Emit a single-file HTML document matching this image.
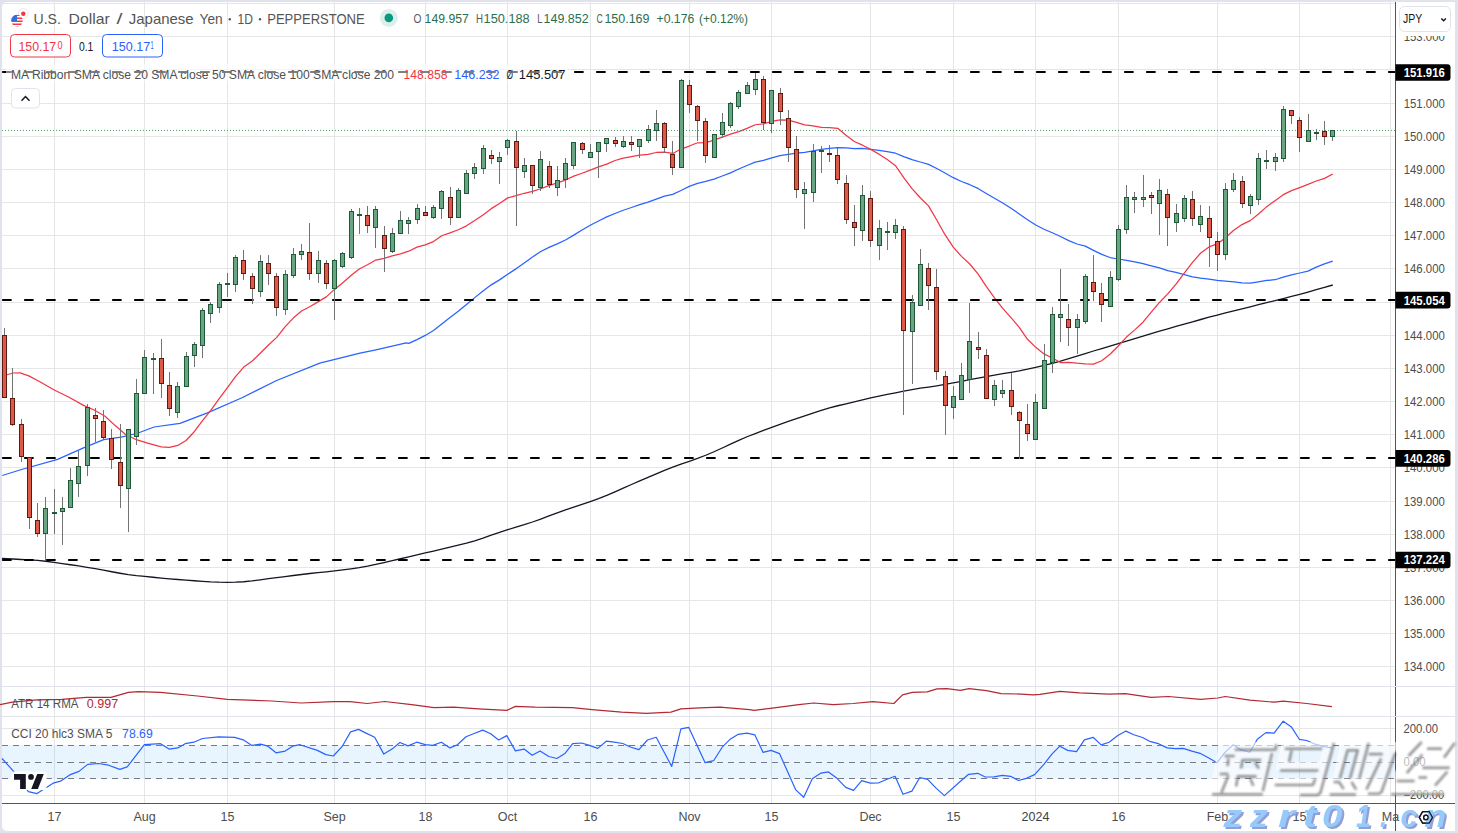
<!DOCTYPE html>
<html><head><meta charset="utf-8"><style>
html,body{margin:0;padding:0;width:1458px;height:833px;overflow:hidden;background:#fff}
svg{display:block}
text{font-family:"Liberation Sans", sans-serif}
</style></head><body>
<svg width="1458" height="833" viewBox="0 0 1458 833" shape-rendering="auto">
<rect x="0.00" y="0.00" width="1458.00" height="833.00" fill="#e0e3eb" />
<rect x="2" y="2" width="1453" height="829" rx="5" fill="#ffffff"/>
<rect x="54.00" y="2.00" width="1.00" height="801.00" fill="#e6e6e6" />
<rect x="144.00" y="2.00" width="1.00" height="801.00" fill="#e6e6e6" />
<rect x="227.00" y="2.00" width="1.00" height="801.00" fill="#e6e6e6" />
<rect x="334.00" y="2.00" width="1.00" height="801.00" fill="#e6e6e6" />
<rect x="425.00" y="2.00" width="1.00" height="801.00" fill="#e6e6e6" />
<rect x="507.00" y="2.00" width="1.00" height="801.00" fill="#e6e6e6" />
<rect x="590.00" y="2.00" width="1.00" height="801.00" fill="#e6e6e6" />
<rect x="689.00" y="2.00" width="1.00" height="801.00" fill="#e6e6e6" />
<rect x="771.00" y="2.00" width="1.00" height="801.00" fill="#e6e6e6" />
<rect x="870.00" y="2.00" width="1.00" height="801.00" fill="#e6e6e6" />
<rect x="953.00" y="2.00" width="1.00" height="801.00" fill="#e6e6e6" />
<rect x="1035.00" y="2.00" width="1.00" height="801.00" fill="#e6e6e6" />
<rect x="1118.00" y="2.00" width="1.00" height="801.00" fill="#e6e6e6" />
<rect x="1217.00" y="2.00" width="1.00" height="801.00" fill="#e6e6e6" />
<rect x="1299.00" y="2.00" width="1.00" height="801.00" fill="#e6e6e6" />
<rect x="1390.00" y="2.00" width="1.00" height="801.00" fill="#e6e6e6" />
<rect x="2.00" y="666.00" width="1393.00" height="1.00" fill="#e6e6e6" />
<rect x="2.00" y="633.00" width="1393.00" height="1.00" fill="#e6e6e6" />
<rect x="2.00" y="600.00" width="1393.00" height="1.00" fill="#e6e6e6" />
<rect x="2.00" y="567.00" width="1393.00" height="1.00" fill="#e6e6e6" />
<rect x="2.00" y="534.00" width="1393.00" height="1.00" fill="#e6e6e6" />
<rect x="2.00" y="501.00" width="1393.00" height="1.00" fill="#e6e6e6" />
<rect x="2.00" y="467.00" width="1393.00" height="1.00" fill="#e6e6e6" />
<rect x="2.00" y="434.00" width="1393.00" height="1.00" fill="#e6e6e6" />
<rect x="2.00" y="401.00" width="1393.00" height="1.00" fill="#e6e6e6" />
<rect x="2.00" y="368.00" width="1393.00" height="1.00" fill="#e6e6e6" />
<rect x="2.00" y="335.00" width="1393.00" height="1.00" fill="#e6e6e6" />
<rect x="2.00" y="302.00" width="1393.00" height="1.00" fill="#e6e6e6" />
<rect x="2.00" y="268.00" width="1393.00" height="1.00" fill="#e6e6e6" />
<rect x="2.00" y="235.00" width="1393.00" height="1.00" fill="#e6e6e6" />
<rect x="2.00" y="202.00" width="1393.00" height="1.00" fill="#e6e6e6" />
<rect x="2.00" y="169.00" width="1393.00" height="1.00" fill="#e6e6e6" />
<rect x="2.00" y="136.00" width="1393.00" height="1.00" fill="#e6e6e6" />
<rect x="2.00" y="103.00" width="1393.00" height="1.00" fill="#e6e6e6" />
<rect x="2.00" y="69.00" width="1393.00" height="1.00" fill="#e6e6e6" />
<rect x="2.00" y="36.00" width="1393.00" height="1.00" fill="#e6e6e6" />
<rect x="2.00" y="3.00" width="1393.00" height="1.00" fill="#e6e6e6" />
<rect x="2.00" y="728.00" width="1393.00" height="1.00" fill="#e6e6e6" />
<rect x="2.00" y="795.00" width="1393.00" height="1.00" fill="#e6e6e6" />
<rect x="2.00" y="745.00" width="1393.00" height="34.00" fill="rgba(33,150,243,0.1)" />
<line x1="2" y1="745.5" x2="1395" y2="745.5" stroke="#787b86" stroke-width="1" stroke-dasharray="6 5"/>
<line x1="2" y1="762.5" x2="1395" y2="762.5" stroke="#787b86" stroke-width="1" stroke-dasharray="6 5"/>
<line x1="2" y1="778.5" x2="1395" y2="778.5" stroke="#787b86" stroke-width="1" stroke-dasharray="6 5"/>
<polyline points="2.00,558.50 12.75,559.02 21.00,559.51 29.25,559.95 37.50,560.47 45.75,561.26 54.00,562.30 62.25,563.52 70.50,564.74 78.75,565.97 87.00,567.30 95.25,568.72 103.50,570.23 111.75,571.74 120.00,573.24 128.25,574.56 136.50,575.63 144.75,576.47 153.00,577.27 161.25,578.07 169.50,578.83 177.75,579.52 186.00,580.14 194.25,580.74 202.50,581.33 210.75,581.85 219.00,582.17 227.25,582.30 235.50,582.22 243.75,581.77 252.00,580.94 260.25,579.81 268.50,578.69 276.75,577.59 285.00,576.52 293.25,575.50 301.50,574.50 309.75,573.52 318.00,572.62 326.25,571.79 334.50,570.96 342.75,569.97 351.00,568.81 359.25,567.52 367.50,566.03 375.75,564.35 384.00,562.51 392.25,560.64 400.50,558.75 408.75,556.82 417.00,554.90 425.25,552.98 433.50,551.04 441.75,549.10 450.00,547.14 458.25,545.18 466.50,543.15 474.75,540.79 483.00,538.11 491.25,535.18 499.50,532.37 507.75,529.72 516.00,527.24 524.25,524.73 532.50,522.00 540.75,519.05 549.00,515.93 557.25,512.87 565.50,509.92 573.75,507.10 582.00,504.34 590.25,501.53 598.50,498.64 606.75,495.40 615.00,491.87 623.25,488.13 631.50,484.48 639.75,480.91 648.00,477.38 656.25,473.89 664.50,470.44 672.75,467.16 681.00,464.13 689.25,461.32 697.50,458.42 705.75,455.24 714.00,451.74 722.25,448.01 730.50,444.13 738.75,440.29 747.00,436.76 755.25,433.54 763.50,430.48 771.75,427.43 780.00,424.39 788.25,421.47 796.50,418.66 804.75,415.93 813.00,413.19 821.25,410.46 829.50,407.98 837.75,405.75 846.00,403.76 854.25,401.78 862.50,399.80 870.75,397.90 879.00,396.12 887.25,394.44 895.50,392.80 903.75,391.16 912.00,389.60 920.25,388.23 928.50,387.02 936.75,385.84 945.00,384.48 953.25,382.94 961.50,381.29 969.75,379.64 978.00,378.04 986.25,376.53 994.50,375.10 1002.75,373.71 1011.00,372.31 1019.25,370.84 1027.50,369.16 1035.75,367.28 1044.00,365.28 1052.25,363.27 1060.50,361.06 1068.75,358.65 1077.00,356.06 1085.25,353.51 1093.50,351.00 1101.75,348.52 1110.00,346.04 1118.25,343.55 1126.50,341.08 1134.75,338.61 1143.00,336.14 1151.25,333.68 1159.50,331.22 1167.75,328.79 1176.00,326.42 1184.25,324.11 1192.50,321.80 1200.75,319.50 1209.00,317.23 1217.25,315.05 1225.50,312.95 1233.75,310.89 1242.00,308.82 1250.25,306.76 1258.50,304.70 1266.75,302.64 1275.00,300.57 1283.25,298.51 1291.50,296.44 1299.75,294.28 1308.00,292.02 1316.25,289.66 1324.50,287.33 1332.75,285.00" fill="none" stroke="#131722" stroke-width="1.3" stroke-linejoin="round" />
<polyline points="2.20,475.50 21.60,469.50 57.60,459.40 83.50,447.90 103.70,439.60 121.00,437.10 136.80,433.50 154.10,427.00 180.00,423.40 207.40,412.90 242.00,397.70 276.60,380.50 319.80,363.20 360.00,353.20 375.90,349.80 406.20,342.90 408.75,343.40 417.00,339.60 425.25,335.43 433.50,330.43 441.75,323.89 450.00,317.56 458.25,311.20 466.50,304.43 474.75,297.63 483.00,291.00 491.25,284.87 499.50,279.87 507.75,274.28 516.00,268.86 524.25,262.96 532.50,256.96 540.75,251.56 549.00,247.41 557.25,243.86 565.50,239.96 573.75,235.12 582.00,229.94 590.25,225.27 598.50,220.98 606.75,216.87 615.00,213.54 623.25,210.28 631.50,207.51 639.75,204.62 648.00,202.07 656.25,199.04 664.50,196.21 672.75,194.34 681.00,190.47 689.25,186.41 697.50,183.35 705.75,181.39 714.00,179.04 722.25,176.02 730.50,172.89 738.75,169.03 747.00,165.53 755.25,162.06 763.50,160.31 771.75,157.84 780.00,155.55 788.25,154.33 796.50,153.14 804.75,152.26 813.00,150.88 821.25,149.49 829.50,148.43 837.75,147.71 846.00,147.97 854.25,148.71 862.50,148.26 870.75,149.28 879.00,150.38 887.25,151.66 895.50,153.21 903.75,156.65 912.00,159.55 920.25,162.02 928.50,164.39 936.75,168.54 945.00,172.93 953.25,177.67 961.50,181.47 969.75,184.70 978.00,188.44 986.25,193.57 994.50,198.26 1002.75,203.01 1011.00,208.32 1019.25,213.97 1027.50,219.78 1035.75,225.00 1044.00,229.28 1052.25,232.79 1060.50,236.49 1068.75,240.58 1077.00,244.00 1085.25,246.17 1093.50,250.41 1101.75,254.42 1110.00,257.54 1118.25,259.00 1126.50,260.27 1134.75,261.77 1143.00,263.65 1151.25,265.79 1159.50,267.90 1167.75,270.67 1176.00,272.47 1184.25,274.63 1192.50,276.79 1200.75,278.14 1209.00,279.10 1217.25,280.42 1225.50,281.18 1233.75,281.78 1242.00,282.77 1250.25,283.09 1258.50,281.84 1266.75,280.48 1275.00,279.73 1283.25,277.10 1291.50,274.86 1299.75,273.00 1308.00,271.11 1316.25,267.12 1324.50,263.81 1332.75,261.15" fill="none" stroke="#2962ff" stroke-width="1.25" stroke-linejoin="round" />
<polyline points="4.50,375.50 13.00,373.00 20.20,372.80 28.80,375.90 40.30,382.00 54.70,390.30 69.10,397.20 83.50,405.40 93.60,409.80 105.10,416.20 115.20,425.60 125.30,434.20 135.40,439.30 146.90,442.90 158.40,446.20 161.25,446.86 169.50,447.43 177.75,445.48 186.00,440.45 194.25,431.74 202.50,420.54 210.75,410.35 219.00,398.97 227.25,387.76 235.50,376.63 243.75,367.06 252.00,361.18 260.25,353.27 268.50,345.03 276.75,337.40 285.00,326.81 293.25,318.06 301.50,310.96 309.75,306.78 318.00,301.87 326.25,296.88 334.50,289.41 342.75,282.76 351.00,275.48 359.25,268.97 367.50,264.77 375.75,260.03 384.00,258.29 392.25,255.79 400.50,253.94 408.75,251.21 417.00,247.14 425.25,244.90 433.50,241.59 441.75,235.76 450.00,232.93 458.25,229.71 466.50,225.81 474.75,220.50 483.00,214.90 491.25,208.65 499.50,203.51 507.75,197.86 516.00,195.69 524.25,193.27 532.50,191.28 540.75,188.77 549.00,185.58 557.25,182.89 565.50,180.04 573.75,176.15 582.00,173.28 590.25,170.08 598.50,166.82 606.75,164.19 615.00,160.48 623.25,158.04 631.50,156.66 639.75,155.24 648.00,154.30 656.25,152.49 664.50,152.04 672.75,153.43 681.00,149.06 689.25,146.04 697.50,142.78 705.75,142.63 714.00,140.05 722.25,137.19 730.50,134.20 738.75,131.66 747.00,128.40 755.25,124.75 763.50,123.79 771.75,121.38 780.00,119.79 788.25,120.13 796.50,122.35 804.75,124.88 813.00,125.98 821.25,127.34 829.50,127.69 837.75,128.32 846.00,135.33 854.25,141.51 862.50,145.19 870.75,149.43 879.00,154.16 887.25,159.60 895.50,165.70 903.75,177.69 912.00,188.55 920.25,197.75 928.50,205.91 936.75,220.00 945.00,234.72 953.25,247.13 961.50,256.40 969.75,264.01 978.00,273.95 986.25,286.37 994.50,297.87 1002.75,308.33 1011.00,317.69 1019.25,327.34 1027.50,339.28 1035.75,347.35 1044.00,353.92 1052.25,358.06 1060.50,362.51 1068.75,362.32 1077.00,363.16 1085.25,363.78 1093.50,364.10 1101.75,360.75 1110.00,354.31 1118.25,345.96 1126.50,337.06 1134.75,329.86 1143.00,322.22 1151.25,312.21 1159.50,302.47 1167.75,293.90 1176.00,284.18 1184.25,273.03 1192.50,262.31 1200.75,252.99 1209.00,246.90 1217.25,243.95 1225.50,237.70 1233.75,230.34 1242.00,224.61 1250.25,220.63 1258.50,213.92 1266.75,206.65 1275.00,200.66 1283.25,194.67 1291.50,190.62 1299.75,187.68 1308.00,184.33 1316.25,181.02 1324.50,178.33 1332.75,173.94" fill="none" stroke="#f23645" stroke-width="1.25" stroke-linejoin="round" />
<line x1="2" y1="130.5" x2="1395" y2="130.5" stroke="#5b9e74" stroke-width="1" stroke-dasharray="1 2"/>
<line x1="2.9" y1="72.00" x2="1395" y2="72.00" stroke="#000000" stroke-width="2" stroke-dasharray="8 14" stroke-linecap="round"/>
<line x1="2.9" y1="300.00" x2="1395" y2="300.00" stroke="#000000" stroke-width="2" stroke-dasharray="8 14" stroke-linecap="round"/>
<line x1="2.9" y1="458.00" x2="1395" y2="458.00" stroke="#000000" stroke-width="2" stroke-dasharray="8 14" stroke-linecap="round"/>
<line x1="2.9" y1="560.00" x2="1395" y2="560.00" stroke="#000000" stroke-width="2" stroke-dasharray="8 14" stroke-linecap="round"/>
<rect x="4.00" y="328.00" width="1.00" height="70.00" fill="#737373" />
<rect x="12.00" y="368.00" width="1.00" height="58.00" fill="#737373" />
<rect x="21.00" y="419.00" width="1.00" height="43.00" fill="#737373" />
<rect x="29.00" y="457.00" width="1.00" height="72.00" fill="#737373" />
<rect x="37.00" y="503.00" width="1.00" height="34.00" fill="#737373" />
<rect x="45.00" y="497.00" width="1.00" height="64.00" fill="#737373" />
<rect x="54.00" y="489.00" width="1.00" height="45.00" fill="#737373" />
<rect x="62.00" y="497.00" width="1.00" height="48.00" fill="#737373" />
<rect x="70.00" y="468.00" width="1.00" height="40.00" fill="#737373" />
<rect x="78.00" y="451.00" width="1.00" height="46.00" fill="#737373" />
<rect x="87.00" y="404.00" width="1.00" height="72.00" fill="#737373" />
<rect x="95.00" y="408.00" width="1.00" height="34.00" fill="#737373" />
<rect x="103.00" y="410.00" width="1.00" height="29.00" fill="#737373" />
<rect x="111.00" y="429.00" width="1.00" height="40.00" fill="#737373" />
<rect x="120.00" y="424.00" width="1.00" height="84.00" fill="#737373" />
<rect x="128.00" y="429.00" width="1.00" height="103.00" fill="#737373" />
<rect x="136.00" y="379.00" width="1.00" height="66.00" fill="#737373" />
<rect x="144.00" y="350.00" width="1.00" height="44.00" fill="#737373" />
<rect x="153.00" y="353.00" width="1.00" height="41.00" fill="#737373" />
<rect x="161.00" y="339.00" width="1.00" height="59.00" fill="#737373" />
<rect x="169.00" y="372.00" width="1.00" height="44.00" fill="#737373" />
<rect x="177.00" y="382.00" width="1.00" height="36.00" fill="#737373" />
<rect x="186.00" y="352.00" width="1.00" height="35.00" fill="#737373" />
<rect x="194.00" y="342.00" width="1.00" height="25.00" fill="#737373" />
<rect x="202.00" y="308.00" width="1.00" height="50.00" fill="#737373" />
<rect x="210.00" y="302.00" width="1.00" height="21.00" fill="#737373" />
<rect x="219.00" y="282.00" width="1.00" height="31.00" fill="#737373" />
<rect x="227.00" y="273.00" width="1.00" height="24.00" fill="#737373" />
<rect x="235.00" y="255.00" width="1.00" height="37.00" fill="#737373" />
<rect x="243.00" y="250.00" width="1.00" height="30.00" fill="#737373" />
<rect x="252.00" y="273.00" width="1.00" height="31.00" fill="#737373" />
<rect x="260.00" y="255.00" width="1.00" height="42.00" fill="#737373" />
<rect x="268.00" y="255.00" width="1.00" height="30.00" fill="#737373" />
<rect x="276.00" y="273.00" width="1.00" height="43.00" fill="#737373" />
<rect x="285.00" y="270.00" width="1.00" height="45.00" fill="#737373" />
<rect x="293.00" y="248.00" width="1.00" height="30.00" fill="#737373" />
<rect x="301.00" y="244.00" width="1.00" height="16.00" fill="#737373" />
<rect x="309.00" y="223.00" width="1.00" height="57.00" fill="#737373" />
<rect x="318.00" y="251.00" width="1.00" height="32.00" fill="#737373" />
<rect x="326.00" y="260.00" width="1.00" height="29.00" fill="#737373" />
<rect x="334.00" y="259.00" width="1.00" height="61.00" fill="#737373" />
<rect x="342.00" y="252.00" width="1.00" height="16.00" fill="#737373" />
<rect x="351.00" y="209.00" width="1.00" height="50.00" fill="#737373" />
<rect x="359.00" y="208.00" width="1.00" height="26.00" fill="#737373" />
<rect x="367.00" y="206.00" width="1.00" height="27.00" fill="#737373" />
<rect x="375.00" y="206.00" width="1.00" height="42.00" fill="#737373" />
<rect x="384.00" y="226.00" width="1.00" height="46.00" fill="#737373" />
<rect x="392.00" y="228.00" width="1.00" height="25.00" fill="#737373" />
<rect x="400.00" y="211.00" width="1.00" height="23.00" fill="#737373" />
<rect x="408.00" y="217.00" width="1.00" height="17.00" fill="#737373" />
<rect x="417.00" y="204.00" width="1.00" height="20.00" fill="#737373" />
<rect x="425.00" y="206.00" width="1.00" height="10.00" fill="#737373" />
<rect x="433.00" y="205.00" width="1.00" height="14.00" fill="#737373" />
<rect x="441.00" y="190.00" width="1.00" height="29.00" fill="#737373" />
<rect x="450.00" y="187.00" width="1.00" height="38.00" fill="#737373" />
<rect x="458.00" y="188.00" width="1.00" height="30.00" fill="#737373" />
<rect x="466.00" y="170.00" width="1.00" height="24.00" fill="#737373" />
<rect x="474.00" y="163.00" width="1.00" height="16.00" fill="#737373" />
<rect x="483.00" y="145.00" width="1.00" height="29.00" fill="#737373" />
<rect x="491.00" y="150.00" width="1.00" height="14.00" fill="#737373" />
<rect x="499.00" y="152.00" width="1.00" height="32.00" fill="#737373" />
<rect x="507.00" y="139.00" width="1.00" height="16.00" fill="#737373" />
<rect x="516.00" y="131.00" width="1.00" height="95.00" fill="#737373" />
<rect x="524.00" y="158.00" width="1.00" height="20.00" fill="#737373" />
<rect x="532.00" y="165.00" width="1.00" height="29.00" fill="#737373" />
<rect x="540.00" y="151.00" width="1.00" height="40.00" fill="#737373" />
<rect x="549.00" y="161.00" width="1.00" height="27.00" fill="#737373" />
<rect x="557.00" y="166.00" width="1.00" height="30.00" fill="#737373" />
<rect x="565.00" y="158.00" width="1.00" height="30.00" fill="#737373" />
<rect x="573.00" y="142.00" width="1.00" height="27.00" fill="#737373" />
<rect x="582.00" y="142.00" width="1.00" height="12.00" fill="#737373" />
<rect x="590.00" y="144.00" width="1.00" height="14.00" fill="#737373" />
<rect x="598.00" y="142.00" width="1.00" height="36.00" fill="#737373" />
<rect x="606.00" y="138.00" width="1.00" height="14.00" fill="#737373" />
<rect x="615.00" y="137.00" width="1.00" height="10.00" fill="#737373" />
<rect x="623.00" y="136.00" width="1.00" height="12.00" fill="#737373" />
<rect x="631.00" y="136.00" width="1.00" height="15.00" fill="#737373" />
<rect x="639.00" y="139.00" width="1.00" height="19.00" fill="#737373" />
<rect x="648.00" y="125.00" width="1.00" height="18.00" fill="#737373" />
<rect x="656.00" y="110.00" width="1.00" height="31.00" fill="#737373" />
<rect x="664.00" y="122.00" width="1.00" height="31.00" fill="#737373" />
<rect x="672.00" y="141.00" width="1.00" height="34.00" fill="#737373" />
<rect x="681.00" y="79.00" width="1.00" height="89.00" fill="#737373" />
<rect x="689.00" y="80.00" width="1.00" height="33.00" fill="#737373" />
<rect x="697.00" y="105.00" width="1.00" height="36.00" fill="#737373" />
<rect x="705.00" y="118.00" width="1.00" height="45.00" fill="#737373" />
<rect x="714.00" y="134.00" width="1.00" height="24.00" fill="#737373" />
<rect x="722.00" y="113.00" width="1.00" height="25.00" fill="#737373" />
<rect x="730.00" y="102.00" width="1.00" height="26.00" fill="#737373" />
<rect x="738.00" y="90.00" width="1.00" height="19.00" fill="#737373" />
<rect x="747.00" y="82.00" width="1.00" height="12.00" fill="#737373" />
<rect x="755.00" y="73.00" width="1.00" height="22.00" fill="#737373" />
<rect x="763.00" y="76.00" width="1.00" height="54.00" fill="#737373" />
<rect x="771.00" y="90.00" width="1.00" height="43.00" fill="#737373" />
<rect x="780.00" y="88.00" width="1.00" height="37.00" fill="#737373" />
<rect x="788.00" y="110.00" width="1.00" height="52.00" fill="#737373" />
<rect x="796.00" y="136.00" width="1.00" height="62.00" fill="#737373" />
<rect x="804.00" y="182.00" width="1.00" height="47.00" fill="#737373" />
<rect x="813.00" y="144.00" width="1.00" height="58.00" fill="#737373" />
<rect x="821.00" y="146.00" width="1.00" height="27.00" fill="#737373" />
<rect x="829.00" y="145.00" width="1.00" height="17.00" fill="#737373" />
<rect x="837.00" y="148.00" width="1.00" height="36.00" fill="#737373" />
<rect x="846.00" y="175.00" width="1.00" height="49.00" fill="#737373" />
<rect x="854.00" y="205.00" width="1.00" height="41.00" fill="#737373" />
<rect x="862.00" y="185.00" width="1.00" height="56.00" fill="#737373" />
<rect x="870.00" y="191.00" width="1.00" height="56.00" fill="#737373" />
<rect x="879.00" y="220.00" width="1.00" height="40.00" fill="#737373" />
<rect x="887.00" y="222.00" width="1.00" height="28.00" fill="#737373" />
<rect x="895.00" y="219.00" width="1.00" height="20.00" fill="#737373" />
<rect x="903.00" y="226.00" width="1.00" height="189.00" fill="#737373" />
<rect x="912.00" y="295.00" width="1.00" height="89.00" fill="#737373" />
<rect x="920.00" y="249.00" width="1.00" height="57.00" fill="#737373" />
<rect x="928.00" y="263.00" width="1.00" height="47.00" fill="#737373" />
<rect x="936.00" y="269.00" width="1.00" height="111.00" fill="#737373" />
<rect x="945.00" y="371.00" width="1.00" height="64.00" fill="#737373" />
<rect x="953.00" y="386.00" width="1.00" height="33.00" fill="#737373" />
<rect x="961.00" y="363.00" width="1.00" height="37.00" fill="#737373" />
<rect x="969.00" y="303.00" width="1.00" height="90.00" fill="#737373" />
<rect x="978.00" y="332.00" width="1.00" height="27.00" fill="#737373" />
<rect x="986.00" y="349.00" width="1.00" height="50.00" fill="#737373" />
<rect x="994.00" y="380.00" width="1.00" height="26.00" fill="#737373" />
<rect x="1002.00" y="380.00" width="1.00" height="18.00" fill="#737373" />
<rect x="1011.00" y="373.00" width="1.00" height="42.00" fill="#737373" />
<rect x="1019.00" y="411.00" width="1.00" height="48.00" fill="#737373" />
<rect x="1027.00" y="404.00" width="1.00" height="37.00" fill="#737373" />
<rect x="1035.00" y="394.00" width="1.00" height="46.00" fill="#737373" />
<rect x="1044.00" y="344.00" width="1.00" height="65.00" fill="#737373" />
<rect x="1052.00" y="307.00" width="1.00" height="66.00" fill="#737373" />
<rect x="1060.00" y="269.00" width="1.00" height="73.00" fill="#737373" />
<rect x="1068.00" y="304.00" width="1.00" height="42.00" fill="#737373" />
<rect x="1077.00" y="314.00" width="1.00" height="40.00" fill="#737373" />
<rect x="1085.00" y="274.00" width="1.00" height="50.00" fill="#737373" />
<rect x="1093.00" y="255.00" width="1.00" height="46.00" fill="#737373" />
<rect x="1101.00" y="283.00" width="1.00" height="39.00" fill="#737373" />
<rect x="1110.00" y="271.00" width="1.00" height="36.00" fill="#737373" />
<rect x="1118.00" y="225.00" width="1.00" height="56.00" fill="#737373" />
<rect x="1126.00" y="185.00" width="1.00" height="49.00" fill="#737373" />
<rect x="1134.00" y="192.00" width="1.00" height="21.00" fill="#737373" />
<rect x="1143.00" y="175.00" width="1.00" height="32.00" fill="#737373" />
<rect x="1151.00" y="192.00" width="1.00" height="22.00" fill="#737373" />
<rect x="1159.00" y="179.00" width="1.00" height="56.00" fill="#737373" />
<rect x="1167.00" y="189.00" width="1.00" height="57.00" fill="#737373" />
<rect x="1176.00" y="204.00" width="1.00" height="28.00" fill="#737373" />
<rect x="1184.00" y="195.00" width="1.00" height="27.00" fill="#737373" />
<rect x="1192.00" y="191.00" width="1.00" height="35.00" fill="#737373" />
<rect x="1200.00" y="205.00" width="1.00" height="27.00" fill="#737373" />
<rect x="1209.00" y="206.00" width="1.00" height="61.00" fill="#737373" />
<rect x="1217.00" y="232.00" width="1.00" height="39.00" fill="#737373" />
<rect x="1225.00" y="183.00" width="1.00" height="77.00" fill="#737373" />
<rect x="1233.00" y="173.00" width="1.00" height="19.00" fill="#737373" />
<rect x="1242.00" y="176.00" width="1.00" height="32.00" fill="#737373" />
<rect x="1250.00" y="194.00" width="1.00" height="20.00" fill="#737373" />
<rect x="1258.00" y="153.00" width="1.00" height="52.00" fill="#737373" />
<rect x="1266.00" y="150.00" width="1.00" height="19.00" fill="#737373" />
<rect x="1275.00" y="153.00" width="1.00" height="18.00" fill="#737373" />
<rect x="1283.00" y="106.00" width="1.00" height="56.00" fill="#737373" />
<rect x="1291.00" y="110.00" width="1.00" height="14.00" fill="#737373" />
<rect x="1299.00" y="117.00" width="1.00" height="35.00" fill="#737373" />
<rect x="1308.00" y="114.00" width="1.00" height="28.00" fill="#737373" />
<rect x="1316.00" y="129.00" width="1.00" height="11.00" fill="#737373" />
<rect x="1324.00" y="121.00" width="1.00" height="24.00" fill="#737373" />
<rect x="1332.00" y="130.00" width="1.00" height="11.00" fill="#737373" />
<rect x="2.00" y="335.00" width="5.00" height="63.00" fill="#5e1a12" />
<rect x="3.00" y="336.00" width="3.00" height="61.00" fill="#dd5a48" />
<rect x="10.00" y="398.00" width="5.00" height="27.00" fill="#5e1a12" />
<rect x="11.00" y="399.00" width="3.00" height="25.00" fill="#dd5a48" />
<rect x="19.00" y="424.00" width="5.00" height="33.00" fill="#5e1a12" />
<rect x="20.00" y="425.00" width="3.00" height="31.00" fill="#dd5a48" />
<rect x="27.00" y="457.00" width="5.00" height="61.00" fill="#5e1a12" />
<rect x="28.00" y="458.00" width="3.00" height="59.00" fill="#dd5a48" />
<rect x="35.00" y="520.00" width="5.00" height="14.00" fill="#5e1a12" />
<rect x="36.00" y="521.00" width="3.00" height="12.00" fill="#dd5a48" />
<rect x="43.00" y="508.00" width="5.00" height="26.00" fill="#1f5a38" />
<rect x="44.00" y="509.00" width="3.00" height="24.00" fill="#6aa583" />
<rect x="52.00" y="512.00" width="5.00" height="2.00" fill="#1f5a38" />
<rect x="60.00" y="508.00" width="5.00" height="4.00" fill="#1f5a38" />
<rect x="61.00" y="509.00" width="3.00" height="2.00" fill="#6aa583" />
<rect x="68.00" y="480.00" width="5.00" height="28.00" fill="#1f5a38" />
<rect x="69.00" y="481.00" width="3.00" height="26.00" fill="#6aa583" />
<rect x="76.00" y="466.00" width="5.00" height="18.00" fill="#1f5a38" />
<rect x="77.00" y="467.00" width="3.00" height="16.00" fill="#6aa583" />
<rect x="85.00" y="407.00" width="5.00" height="59.00" fill="#1f5a38" />
<rect x="86.00" y="408.00" width="3.00" height="57.00" fill="#6aa583" />
<rect x="93.00" y="415.00" width="5.00" height="4.00" fill="#5e1a12" />
<rect x="94.00" y="416.00" width="3.00" height="2.00" fill="#dd5a48" />
<rect x="101.00" y="421.00" width="5.00" height="17.00" fill="#5e1a12" />
<rect x="102.00" y="422.00" width="3.00" height="15.00" fill="#dd5a48" />
<rect x="109.00" y="438.00" width="5.00" height="22.00" fill="#5e1a12" />
<rect x="110.00" y="439.00" width="3.00" height="20.00" fill="#dd5a48" />
<rect x="118.00" y="462.00" width="5.00" height="24.00" fill="#5e1a12" />
<rect x="119.00" y="463.00" width="3.00" height="22.00" fill="#dd5a48" />
<rect x="126.00" y="429.00" width="5.00" height="60.00" fill="#1f5a38" />
<rect x="127.00" y="430.00" width="3.00" height="58.00" fill="#6aa583" />
<rect x="134.00" y="393.00" width="5.00" height="44.00" fill="#1f5a38" />
<rect x="135.00" y="394.00" width="3.00" height="42.00" fill="#6aa583" />
<rect x="142.00" y="357.00" width="5.00" height="37.00" fill="#1f5a38" />
<rect x="143.00" y="358.00" width="3.00" height="35.00" fill="#6aa583" />
<rect x="151.00" y="358.00" width="5.00" height="2.00" fill="#1f5a38" />
<rect x="159.00" y="358.00" width="5.00" height="26.00" fill="#5e1a12" />
<rect x="160.00" y="359.00" width="3.00" height="24.00" fill="#dd5a48" />
<rect x="167.00" y="385.00" width="5.00" height="24.00" fill="#5e1a12" />
<rect x="168.00" y="386.00" width="3.00" height="22.00" fill="#dd5a48" />
<rect x="175.00" y="386.00" width="5.00" height="27.00" fill="#1f5a38" />
<rect x="176.00" y="387.00" width="3.00" height="25.00" fill="#6aa583" />
<rect x="184.00" y="356.00" width="5.00" height="31.00" fill="#1f5a38" />
<rect x="185.00" y="357.00" width="3.00" height="29.00" fill="#6aa583" />
<rect x="192.00" y="344.00" width="5.00" height="12.00" fill="#1f5a38" />
<rect x="193.00" y="345.00" width="3.00" height="10.00" fill="#6aa583" />
<rect x="200.00" y="310.00" width="5.00" height="36.00" fill="#1f5a38" />
<rect x="201.00" y="311.00" width="3.00" height="34.00" fill="#6aa583" />
<rect x="208.00" y="304.00" width="5.00" height="10.00" fill="#1f5a38" />
<rect x="209.00" y="305.00" width="3.00" height="8.00" fill="#6aa583" />
<rect x="217.00" y="284.00" width="5.00" height="24.00" fill="#1f5a38" />
<rect x="218.00" y="285.00" width="3.00" height="22.00" fill="#6aa583" />
<rect x="225.00" y="283.00" width="5.00" height="2.00" fill="#1f5a38" />
<rect x="233.00" y="257.00" width="5.00" height="28.00" fill="#1f5a38" />
<rect x="234.00" y="258.00" width="3.00" height="26.00" fill="#6aa583" />
<rect x="241.00" y="260.00" width="5.00" height="14.00" fill="#5e1a12" />
<rect x="242.00" y="261.00" width="3.00" height="12.00" fill="#dd5a48" />
<rect x="250.00" y="276.00" width="5.00" height="13.00" fill="#5e1a12" />
<rect x="251.00" y="277.00" width="3.00" height="11.00" fill="#dd5a48" />
<rect x="258.00" y="261.00" width="5.00" height="31.00" fill="#1f5a38" />
<rect x="259.00" y="262.00" width="3.00" height="29.00" fill="#6aa583" />
<rect x="266.00" y="263.00" width="5.00" height="11.00" fill="#5e1a12" />
<rect x="267.00" y="264.00" width="3.00" height="9.00" fill="#dd5a48" />
<rect x="274.00" y="276.00" width="5.00" height="32.00" fill="#5e1a12" />
<rect x="275.00" y="277.00" width="3.00" height="30.00" fill="#dd5a48" />
<rect x="283.00" y="274.00" width="5.00" height="36.00" fill="#1f5a38" />
<rect x="284.00" y="275.00" width="3.00" height="34.00" fill="#6aa583" />
<rect x="291.00" y="254.00" width="5.00" height="22.00" fill="#1f5a38" />
<rect x="292.00" y="255.00" width="3.00" height="20.00" fill="#6aa583" />
<rect x="299.00" y="251.00" width="5.00" height="4.00" fill="#1f5a38" />
<rect x="300.00" y="252.00" width="3.00" height="2.00" fill="#6aa583" />
<rect x="307.00" y="252.00" width="5.00" height="22.00" fill="#5e1a12" />
<rect x="308.00" y="253.00" width="3.00" height="20.00" fill="#dd5a48" />
<rect x="316.00" y="260.00" width="5.00" height="14.00" fill="#1f5a38" />
<rect x="317.00" y="261.00" width="3.00" height="12.00" fill="#6aa583" />
<rect x="324.00" y="263.00" width="5.00" height="21.00" fill="#5e1a12" />
<rect x="325.00" y="264.00" width="3.00" height="19.00" fill="#dd5a48" />
<rect x="332.00" y="260.00" width="5.00" height="29.00" fill="#1f5a38" />
<rect x="333.00" y="261.00" width="3.00" height="27.00" fill="#6aa583" />
<rect x="340.00" y="253.00" width="5.00" height="14.00" fill="#1f5a38" />
<rect x="341.00" y="254.00" width="3.00" height="12.00" fill="#6aa583" />
<rect x="349.00" y="211.00" width="5.00" height="47.00" fill="#1f5a38" />
<rect x="350.00" y="212.00" width="3.00" height="45.00" fill="#6aa583" />
<rect x="357.00" y="214.00" width="5.00" height="2.00" fill="#1f5a38" />
<rect x="365.00" y="215.00" width="5.00" height="11.00" fill="#5e1a12" />
<rect x="366.00" y="216.00" width="3.00" height="9.00" fill="#dd5a48" />
<rect x="373.00" y="209.00" width="5.00" height="19.00" fill="#1f5a38" />
<rect x="374.00" y="210.00" width="3.00" height="17.00" fill="#6aa583" />
<rect x="382.00" y="235.00" width="5.00" height="14.00" fill="#5e1a12" />
<rect x="383.00" y="236.00" width="3.00" height="12.00" fill="#dd5a48" />
<rect x="390.00" y="233.00" width="5.00" height="19.00" fill="#1f5a38" />
<rect x="391.00" y="234.00" width="3.00" height="17.00" fill="#6aa583" />
<rect x="398.00" y="220.00" width="5.00" height="14.00" fill="#1f5a38" />
<rect x="399.00" y="221.00" width="3.00" height="12.00" fill="#6aa583" />
<rect x="406.00" y="220.00" width="5.00" height="4.00" fill="#1f5a38" />
<rect x="407.00" y="221.00" width="3.00" height="2.00" fill="#6aa583" />
<rect x="415.00" y="208.00" width="5.00" height="12.00" fill="#1f5a38" />
<rect x="416.00" y="209.00" width="3.00" height="10.00" fill="#6aa583" />
<rect x="423.00" y="212.00" width="5.00" height="4.00" fill="#5e1a12" />
<rect x="424.00" y="213.00" width="3.00" height="2.00" fill="#dd5a48" />
<rect x="431.00" y="207.00" width="5.00" height="11.00" fill="#1f5a38" />
<rect x="432.00" y="208.00" width="3.00" height="9.00" fill="#6aa583" />
<rect x="439.00" y="191.00" width="5.00" height="18.00" fill="#1f5a38" />
<rect x="440.00" y="192.00" width="3.00" height="16.00" fill="#6aa583" />
<rect x="448.00" y="197.00" width="5.00" height="21.00" fill="#5e1a12" />
<rect x="449.00" y="198.00" width="3.00" height="19.00" fill="#dd5a48" />
<rect x="456.00" y="190.00" width="5.00" height="28.00" fill="#1f5a38" />
<rect x="457.00" y="191.00" width="3.00" height="26.00" fill="#6aa583" />
<rect x="464.00" y="173.00" width="5.00" height="21.00" fill="#1f5a38" />
<rect x="465.00" y="174.00" width="3.00" height="19.00" fill="#6aa583" />
<rect x="472.00" y="167.00" width="5.00" height="7.00" fill="#1f5a38" />
<rect x="473.00" y="168.00" width="3.00" height="5.00" fill="#6aa583" />
<rect x="481.00" y="148.00" width="5.00" height="21.00" fill="#1f5a38" />
<rect x="482.00" y="149.00" width="3.00" height="19.00" fill="#6aa583" />
<rect x="489.00" y="155.00" width="5.00" height="4.00" fill="#5e1a12" />
<rect x="490.00" y="156.00" width="3.00" height="2.00" fill="#dd5a48" />
<rect x="497.00" y="157.00" width="5.00" height="5.00" fill="#1f5a38" />
<rect x="498.00" y="158.00" width="3.00" height="3.00" fill="#6aa583" />
<rect x="505.00" y="140.00" width="5.00" height="8.00" fill="#1f5a38" />
<rect x="506.00" y="141.00" width="3.00" height="6.00" fill="#6aa583" />
<rect x="514.00" y="141.00" width="5.00" height="27.00" fill="#5e1a12" />
<rect x="515.00" y="142.00" width="3.00" height="25.00" fill="#dd5a48" />
<rect x="522.00" y="165.00" width="5.00" height="7.00" fill="#1f5a38" />
<rect x="523.00" y="166.00" width="3.00" height="5.00" fill="#6aa583" />
<rect x="530.00" y="165.00" width="5.00" height="21.00" fill="#5e1a12" />
<rect x="531.00" y="166.00" width="3.00" height="19.00" fill="#dd5a48" />
<rect x="538.00" y="159.00" width="5.00" height="29.00" fill="#1f5a38" />
<rect x="539.00" y="160.00" width="3.00" height="27.00" fill="#6aa583" />
<rect x="547.00" y="166.00" width="5.00" height="19.00" fill="#5e1a12" />
<rect x="548.00" y="167.00" width="3.00" height="17.00" fill="#dd5a48" />
<rect x="555.00" y="180.00" width="5.00" height="8.00" fill="#1f5a38" />
<rect x="556.00" y="181.00" width="3.00" height="6.00" fill="#6aa583" />
<rect x="563.00" y="163.00" width="5.00" height="17.00" fill="#1f5a38" />
<rect x="564.00" y="164.00" width="3.00" height="15.00" fill="#6aa583" />
<rect x="571.00" y="142.00" width="5.00" height="24.00" fill="#1f5a38" />
<rect x="572.00" y="143.00" width="3.00" height="22.00" fill="#6aa583" />
<rect x="580.00" y="143.00" width="5.00" height="7.00" fill="#5e1a12" />
<rect x="581.00" y="144.00" width="3.00" height="5.00" fill="#dd5a48" />
<rect x="588.00" y="152.00" width="5.00" height="6.00" fill="#1f5a38" />
<rect x="589.00" y="153.00" width="3.00" height="4.00" fill="#6aa583" />
<rect x="596.00" y="142.00" width="5.00" height="10.00" fill="#1f5a38" />
<rect x="597.00" y="143.00" width="3.00" height="8.00" fill="#6aa583" />
<rect x="604.00" y="138.00" width="5.00" height="6.00" fill="#1f5a38" />
<rect x="605.00" y="139.00" width="3.00" height="4.00" fill="#6aa583" />
<rect x="613.00" y="140.00" width="5.00" height="4.00" fill="#5e1a12" />
<rect x="614.00" y="141.00" width="3.00" height="2.00" fill="#dd5a48" />
<rect x="621.00" y="141.00" width="5.00" height="6.00" fill="#1f5a38" />
<rect x="622.00" y="142.00" width="3.00" height="4.00" fill="#6aa583" />
<rect x="629.00" y="142.00" width="5.00" height="3.00" fill="#5e1a12" />
<rect x="630.00" y="143.00" width="3.00" height="1.00" fill="#dd5a48" />
<rect x="637.00" y="139.00" width="5.00" height="8.00" fill="#1f5a38" />
<rect x="638.00" y="140.00" width="3.00" height="6.00" fill="#6aa583" />
<rect x="646.00" y="129.00" width="5.00" height="12.00" fill="#1f5a38" />
<rect x="647.00" y="130.00" width="3.00" height="10.00" fill="#6aa583" />
<rect x="654.00" y="123.00" width="5.00" height="8.00" fill="#1f5a38" />
<rect x="655.00" y="124.00" width="3.00" height="6.00" fill="#6aa583" />
<rect x="662.00" y="123.00" width="5.00" height="25.00" fill="#5e1a12" />
<rect x="663.00" y="124.00" width="3.00" height="23.00" fill="#dd5a48" />
<rect x="670.00" y="154.00" width="5.00" height="14.00" fill="#5e1a12" />
<rect x="671.00" y="155.00" width="3.00" height="12.00" fill="#dd5a48" />
<rect x="679.00" y="80.00" width="5.00" height="88.00" fill="#1f5a38" />
<rect x="680.00" y="81.00" width="3.00" height="86.00" fill="#6aa583" />
<rect x="687.00" y="85.00" width="5.00" height="20.00" fill="#5e1a12" />
<rect x="688.00" y="86.00" width="3.00" height="18.00" fill="#dd5a48" />
<rect x="695.00" y="106.00" width="5.00" height="15.00" fill="#5e1a12" />
<rect x="696.00" y="107.00" width="3.00" height="13.00" fill="#dd5a48" />
<rect x="703.00" y="121.00" width="5.00" height="35.00" fill="#5e1a12" />
<rect x="704.00" y="122.00" width="3.00" height="33.00" fill="#dd5a48" />
<rect x="712.00" y="134.00" width="5.00" height="24.00" fill="#1f5a38" />
<rect x="713.00" y="135.00" width="3.00" height="22.00" fill="#6aa583" />
<rect x="720.00" y="122.00" width="5.00" height="13.00" fill="#1f5a38" />
<rect x="721.00" y="123.00" width="3.00" height="11.00" fill="#6aa583" />
<rect x="728.00" y="103.00" width="5.00" height="23.00" fill="#1f5a38" />
<rect x="729.00" y="104.00" width="3.00" height="21.00" fill="#6aa583" />
<rect x="736.00" y="92.00" width="5.00" height="15.00" fill="#1f5a38" />
<rect x="737.00" y="93.00" width="3.00" height="13.00" fill="#6aa583" />
<rect x="745.00" y="85.00" width="5.00" height="9.00" fill="#1f5a38" />
<rect x="746.00" y="86.00" width="3.00" height="7.00" fill="#6aa583" />
<rect x="753.00" y="79.00" width="5.00" height="11.00" fill="#1f5a38" />
<rect x="754.00" y="80.00" width="3.00" height="9.00" fill="#6aa583" />
<rect x="761.00" y="79.00" width="5.00" height="44.00" fill="#5e1a12" />
<rect x="762.00" y="80.00" width="3.00" height="42.00" fill="#dd5a48" />
<rect x="769.00" y="90.00" width="5.00" height="34.00" fill="#1f5a38" />
<rect x="770.00" y="91.00" width="3.00" height="32.00" fill="#6aa583" />
<rect x="778.00" y="93.00" width="5.00" height="19.00" fill="#5e1a12" />
<rect x="779.00" y="94.00" width="3.00" height="17.00" fill="#dd5a48" />
<rect x="786.00" y="118.00" width="5.00" height="30.00" fill="#5e1a12" />
<rect x="787.00" y="119.00" width="3.00" height="28.00" fill="#dd5a48" />
<rect x="794.00" y="149.00" width="5.00" height="41.00" fill="#5e1a12" />
<rect x="795.00" y="150.00" width="3.00" height="39.00" fill="#dd5a48" />
<rect x="802.00" y="189.00" width="5.00" height="5.00" fill="#1f5a38" />
<rect x="803.00" y="190.00" width="3.00" height="3.00" fill="#6aa583" />
<rect x="811.00" y="151.00" width="5.00" height="42.00" fill="#1f5a38" />
<rect x="812.00" y="152.00" width="3.00" height="40.00" fill="#6aa583" />
<rect x="819.00" y="150.00" width="5.00" height="2.00" fill="#1f5a38" />
<rect x="827.00" y="153.00" width="5.00" height="2.00" fill="#5e1a12" />
<rect x="835.00" y="155.00" width="5.00" height="25.00" fill="#5e1a12" />
<rect x="836.00" y="156.00" width="3.00" height="23.00" fill="#dd5a48" />
<rect x="844.00" y="183.00" width="5.00" height="37.00" fill="#5e1a12" />
<rect x="845.00" y="184.00" width="3.00" height="35.00" fill="#dd5a48" />
<rect x="852.00" y="222.00" width="5.00" height="6.00" fill="#5e1a12" />
<rect x="853.00" y="223.00" width="3.00" height="4.00" fill="#dd5a48" />
<rect x="860.00" y="195.00" width="5.00" height="36.00" fill="#1f5a38" />
<rect x="861.00" y="196.00" width="3.00" height="34.00" fill="#6aa583" />
<rect x="868.00" y="198.00" width="5.00" height="43.00" fill="#5e1a12" />
<rect x="869.00" y="199.00" width="3.00" height="41.00" fill="#dd5a48" />
<rect x="877.00" y="228.00" width="5.00" height="18.00" fill="#1f5a38" />
<rect x="878.00" y="229.00" width="3.00" height="16.00" fill="#6aa583" />
<rect x="885.00" y="231.00" width="5.00" height="2.00" fill="#1f5a38" />
<rect x="893.00" y="225.00" width="5.00" height="8.00" fill="#1f5a38" />
<rect x="894.00" y="226.00" width="3.00" height="6.00" fill="#6aa583" />
<rect x="901.00" y="229.00" width="5.00" height="102.00" fill="#5e1a12" />
<rect x="902.00" y="230.00" width="3.00" height="100.00" fill="#dd5a48" />
<rect x="910.00" y="302.00" width="5.00" height="30.00" fill="#1f5a38" />
<rect x="911.00" y="303.00" width="3.00" height="28.00" fill="#6aa583" />
<rect x="918.00" y="264.00" width="5.00" height="42.00" fill="#1f5a38" />
<rect x="919.00" y="265.00" width="3.00" height="40.00" fill="#6aa583" />
<rect x="926.00" y="268.00" width="5.00" height="18.00" fill="#5e1a12" />
<rect x="927.00" y="269.00" width="3.00" height="16.00" fill="#dd5a48" />
<rect x="934.00" y="287.00" width="5.00" height="85.00" fill="#5e1a12" />
<rect x="935.00" y="288.00" width="3.00" height="83.00" fill="#dd5a48" />
<rect x="943.00" y="376.00" width="5.00" height="30.00" fill="#5e1a12" />
<rect x="944.00" y="377.00" width="3.00" height="28.00" fill="#dd5a48" />
<rect x="951.00" y="396.00" width="5.00" height="12.00" fill="#1f5a38" />
<rect x="952.00" y="397.00" width="3.00" height="10.00" fill="#6aa583" />
<rect x="959.00" y="375.00" width="5.00" height="25.00" fill="#1f5a38" />
<rect x="960.00" y="376.00" width="3.00" height="23.00" fill="#6aa583" />
<rect x="967.00" y="341.00" width="5.00" height="39.00" fill="#1f5a38" />
<rect x="968.00" y="342.00" width="3.00" height="37.00" fill="#6aa583" />
<rect x="976.00" y="347.00" width="5.00" height="3.00" fill="#5e1a12" />
<rect x="977.00" y="348.00" width="3.00" height="1.00" fill="#dd5a48" />
<rect x="984.00" y="355.00" width="5.00" height="44.00" fill="#5e1a12" />
<rect x="985.00" y="356.00" width="3.00" height="42.00" fill="#dd5a48" />
<rect x="992.00" y="385.00" width="5.00" height="15.00" fill="#1f5a38" />
<rect x="993.00" y="386.00" width="3.00" height="13.00" fill="#6aa583" />
<rect x="1000.00" y="390.00" width="5.00" height="4.00" fill="#1f5a38" />
<rect x="1001.00" y="391.00" width="3.00" height="2.00" fill="#6aa583" />
<rect x="1009.00" y="390.00" width="5.00" height="17.00" fill="#5e1a12" />
<rect x="1010.00" y="391.00" width="3.00" height="15.00" fill="#dd5a48" />
<rect x="1017.00" y="412.00" width="5.00" height="9.00" fill="#5e1a12" />
<rect x="1018.00" y="413.00" width="3.00" height="7.00" fill="#dd5a48" />
<rect x="1025.00" y="424.00" width="5.00" height="10.00" fill="#5e1a12" />
<rect x="1026.00" y="425.00" width="3.00" height="8.00" fill="#dd5a48" />
<rect x="1033.00" y="402.00" width="5.00" height="38.00" fill="#1f5a38" />
<rect x="1034.00" y="403.00" width="3.00" height="36.00" fill="#6aa583" />
<rect x="1042.00" y="360.00" width="5.00" height="49.00" fill="#1f5a38" />
<rect x="1043.00" y="361.00" width="3.00" height="47.00" fill="#6aa583" />
<rect x="1050.00" y="314.00" width="5.00" height="49.00" fill="#1f5a38" />
<rect x="1051.00" y="315.00" width="3.00" height="47.00" fill="#6aa583" />
<rect x="1058.00" y="314.00" width="5.00" height="4.00" fill="#1f5a38" />
<rect x="1059.00" y="315.00" width="3.00" height="2.00" fill="#6aa583" />
<rect x="1066.00" y="319.00" width="5.00" height="9.00" fill="#5e1a12" />
<rect x="1067.00" y="320.00" width="3.00" height="7.00" fill="#dd5a48" />
<rect x="1075.00" y="319.00" width="5.00" height="9.00" fill="#1f5a38" />
<rect x="1076.00" y="320.00" width="3.00" height="7.00" fill="#6aa583" />
<rect x="1083.00" y="276.00" width="5.00" height="46.00" fill="#1f5a38" />
<rect x="1084.00" y="277.00" width="3.00" height="44.00" fill="#6aa583" />
<rect x="1091.00" y="282.00" width="5.00" height="10.00" fill="#5e1a12" />
<rect x="1092.00" y="283.00" width="3.00" height="8.00" fill="#dd5a48" />
<rect x="1099.00" y="293.00" width="5.00" height="12.00" fill="#5e1a12" />
<rect x="1100.00" y="294.00" width="3.00" height="10.00" fill="#dd5a48" />
<rect x="1108.00" y="277.00" width="5.00" height="30.00" fill="#1f5a38" />
<rect x="1109.00" y="278.00" width="3.00" height="28.00" fill="#6aa583" />
<rect x="1116.00" y="229.00" width="5.00" height="51.00" fill="#1f5a38" />
<rect x="1117.00" y="230.00" width="3.00" height="49.00" fill="#6aa583" />
<rect x="1124.00" y="197.00" width="5.00" height="33.00" fill="#1f5a38" />
<rect x="1125.00" y="198.00" width="3.00" height="31.00" fill="#6aa583" />
<rect x="1132.00" y="197.00" width="5.00" height="3.00" fill="#1f5a38" />
<rect x="1133.00" y="198.00" width="3.00" height="1.00" fill="#6aa583" />
<rect x="1141.00" y="197.00" width="5.00" height="3.00" fill="#1f5a38" />
<rect x="1142.00" y="198.00" width="3.00" height="1.00" fill="#6aa583" />
<rect x="1149.00" y="195.00" width="5.00" height="3.00" fill="#5e1a12" />
<rect x="1150.00" y="196.00" width="3.00" height="1.00" fill="#dd5a48" />
<rect x="1157.00" y="190.00" width="5.00" height="14.00" fill="#1f5a38" />
<rect x="1158.00" y="191.00" width="3.00" height="12.00" fill="#6aa583" />
<rect x="1165.00" y="194.00" width="5.00" height="24.00" fill="#5e1a12" />
<rect x="1166.00" y="195.00" width="3.00" height="22.00" fill="#dd5a48" />
<rect x="1174.00" y="213.00" width="5.00" height="10.00" fill="#1f5a38" />
<rect x="1175.00" y="214.00" width="3.00" height="8.00" fill="#6aa583" />
<rect x="1182.00" y="198.00" width="5.00" height="21.00" fill="#1f5a38" />
<rect x="1183.00" y="199.00" width="3.00" height="19.00" fill="#6aa583" />
<rect x="1190.00" y="199.00" width="5.00" height="20.00" fill="#5e1a12" />
<rect x="1191.00" y="200.00" width="3.00" height="18.00" fill="#dd5a48" />
<rect x="1198.00" y="216.00" width="5.00" height="9.00" fill="#1f5a38" />
<rect x="1199.00" y="217.00" width="3.00" height="7.00" fill="#6aa583" />
<rect x="1207.00" y="218.00" width="5.00" height="20.00" fill="#5e1a12" />
<rect x="1208.00" y="219.00" width="3.00" height="18.00" fill="#dd5a48" />
<rect x="1215.00" y="241.00" width="5.00" height="14.00" fill="#5e1a12" />
<rect x="1216.00" y="242.00" width="3.00" height="12.00" fill="#dd5a48" />
<rect x="1223.00" y="189.00" width="5.00" height="66.00" fill="#1f5a38" />
<rect x="1224.00" y="190.00" width="3.00" height="64.00" fill="#6aa583" />
<rect x="1231.00" y="180.00" width="5.00" height="10.00" fill="#1f5a38" />
<rect x="1232.00" y="181.00" width="3.00" height="8.00" fill="#6aa583" />
<rect x="1240.00" y="181.00" width="5.00" height="23.00" fill="#5e1a12" />
<rect x="1241.00" y="182.00" width="3.00" height="21.00" fill="#dd5a48" />
<rect x="1248.00" y="196.00" width="5.00" height="10.00" fill="#1f5a38" />
<rect x="1249.00" y="197.00" width="3.00" height="8.00" fill="#6aa583" />
<rect x="1256.00" y="158.00" width="5.00" height="42.00" fill="#1f5a38" />
<rect x="1257.00" y="159.00" width="3.00" height="40.00" fill="#6aa583" />
<rect x="1264.00" y="160.00" width="5.00" height="2.00" fill="#1f5a38" />
<rect x="1273.00" y="157.00" width="5.00" height="5.00" fill="#1f5a38" />
<rect x="1274.00" y="158.00" width="3.00" height="3.00" fill="#6aa583" />
<rect x="1281.00" y="109.00" width="5.00" height="50.00" fill="#1f5a38" />
<rect x="1282.00" y="110.00" width="3.00" height="48.00" fill="#6aa583" />
<rect x="1289.00" y="110.00" width="5.00" height="6.00" fill="#5e1a12" />
<rect x="1290.00" y="111.00" width="3.00" height="4.00" fill="#dd5a48" />
<rect x="1297.00" y="120.00" width="5.00" height="18.00" fill="#5e1a12" />
<rect x="1298.00" y="121.00" width="3.00" height="16.00" fill="#dd5a48" />
<rect x="1306.00" y="130.00" width="5.00" height="12.00" fill="#1f5a38" />
<rect x="1307.00" y="131.00" width="3.00" height="10.00" fill="#6aa583" />
<rect x="1314.00" y="132.00" width="5.00" height="2.00" fill="#1f5a38" />
<rect x="1322.00" y="131.00" width="5.00" height="6.00" fill="#5e1a12" />
<rect x="1323.00" y="132.00" width="3.00" height="4.00" fill="#dd5a48" />
<rect x="1330.00" y="130.00" width="5.00" height="7.00" fill="#1f5a38" />
<rect x="1331.00" y="131.00" width="3.00" height="5.00" fill="#6aa583" />
<polyline points="0.00,704.70 12.30,702.20 37.00,699.80 61.70,699.30 86.40,697.30 111.00,697.30 128.40,692.30 138.30,691.60 160.50,692.30 197.50,696.00 227.20,699.30 271.60,701.00 301.20,703.00 333.30,701.70 350.00,701.70 367.30,703.50 384.60,701.50 411.70,704.70 434.00,707.70 453.70,707.20 478.40,708.90 506.80,710.40 515.40,706.40 535.20,707.20 572.20,707.70 592.00,709.60 621.60,712.10 646.30,713.30 671.00,712.10 680.90,708.90 700.00,707.90 719.80,707.20 749.40,709.60 754.30,710.40 774.10,707.90 798.80,704.70 813.60,703.00 833.30,704.70 853.10,703.50 872.80,701.70 893.80,703.50 902.50,694.80 912.30,692.30 927.20,691.90 937.00,688.90 946.90,688.60 960.50,690.40 969.10,688.60 986.40,690.60 1001.20,693.60 1021.00,694.10 1033.30,694.80 1040.00,694.30 1059.80,691.40 1079.50,692.80 1109.10,694.10 1125.20,693.60 1151.10,697.30 1168.40,696.50 1200.50,699.30 1217.80,698.00 1225.20,696.50 1249.90,700.20 1274.60,702.20 1283.20,701.20 1306.70,703.50 1331.90,706.70" fill="none" stroke="#b22833" stroke-width="1.2" stroke-linejoin="round" />
<polyline points="2.00,758.50 14.80,772.60 28.40,791.60 37.00,793.60 53.10,783.20 60.50,781.20 70.40,774.60 79.00,771.40 87.70,764.40 98.80,763.50 108.60,765.20 119.80,769.40 127.20,766.90 144.40,744.70 160.50,743.70 169.10,749.10 177.80,747.90 185.20,743.70 193.80,742.20 202.50,738.50 218.50,736.80 234.60,737.30 243.20,739.80 251.90,745.40 260.50,744.20 267.90,746.20 276.00,752.80 285.20,751.10 292.60,746.20 300.00,744.70 317.30,750.40 325.90,754.60 333.30,756.00 342.00,746.70 350.60,731.90 358.60,729.40 366.00,733.10 374.70,737.30 383.80,754.10 392.00,749.10 399.90,742.50 408.00,745.90 416.70,742.20 425.30,744.70 432.70,745.40 441.40,742.20 450.00,747.90 457.40,744.70 466.00,736.80 473.50,733.80 482.80,730.10 490.70,733.80 498.60,740.00 506.80,735.60 515.40,750.90 524.10,749.10 532.20,755.30 540.10,750.90 548.80,756.50 556.90,758.50 564.80,753.60 572.70,743.70 581.60,743.00 589.50,745.40 597.70,748.40 606.30,741.20 614.20,742.20 622.80,743.50 631.00,747.20 638.90,749.60 647.50,740.00 656.20,737.30 671.70,766.40 680.90,728.90 688.80,727.40 705.10,762.70 713.60,760.70 722.20,747.20 730.10,739.30 738.30,734.30 746.90,733.10 754.80,734.80 763.00,752.30 771.10,750.40 779.50,753.60 795.80,789.90 803.70,797.30 812.30,778.80 821.00,773.10 828.40,771.90 837.00,778.30 845.70,787.40 853.60,790.40 861.70,780.70 870.40,783.20 878.30,783.00 886.40,779.50 895.10,776.30 903.00,794.30 911.90,791.10 919.80,777.50 927.70,779.30 935.80,787.90 944.40,795.60 960.50,781.20 968.60,774.30 977.80,773.30 985.20,777.00 993.80,776.80 1002.50,775.30 1010.60,776.30 1018.50,780.50 1026.40,778.30 1034.60,774.60 1043.20,765.20 1051.90,754.10 1059.80,746.20 1067.70,750.40 1076.50,751.60 1084.40,739.80 1093.10,737.30 1101.20,744.90 1109.10,742.20 1117.80,735.60 1125.90,731.10 1133.80,734.80 1142.50,737.50 1150.60,741.70 1158.50,743.70 1167.20,747.90 1175.30,748.60 1183.20,748.40 1191.90,751.10 1200.00,753.30 1208.40,757.80 1217.00,762.70 1225.20,752.10 1233.30,744.70 1241.20,749.90 1249.90,752.10 1257.30,739.30 1265.90,732.60 1274.10,733.10 1283.20,721.20 1291.40,726.90 1299.30,739.30 1306.70,740.50 1315.30,744.20 1324.00,746.70 1331.90,747.90" fill="none" stroke="#2962ff" stroke-width="1.2" stroke-linejoin="round" />
<rect x="6.00" y="64.00" width="562.00" height="17.00" fill="rgba(255,255,255,0.6)" />
<text x="11.00" y="78.60" font-size="12.5" fill="#4f4f4f" font-weight="normal" text-anchor="start" textLength="383.00" lengthAdjust="spacingAndGlyphs" >MA Ribbon SMA close 20 SMA close 50 SMA close 100 SMA close 200</text>
<text x="403.60" y="78.60" font-size="12.5" fill="#f23645" font-weight="normal" text-anchor="start" textLength="43.90" lengthAdjust="spacingAndGlyphs" >148.858</text>
<text x="454.30" y="78.60" font-size="12.5" fill="#2962ff" font-weight="normal" text-anchor="start" textLength="45.30" lengthAdjust="spacingAndGlyphs" >146.232</text>
<text x="506.50" y="78.60" font-size="12.5" fill="#131722" font-weight="normal" text-anchor="start" textLength="6.50" lengthAdjust="spacingAndGlyphs" >&#216;</text>
<text x="518.80" y="78.60" font-size="12.5" fill="#131722" font-weight="normal" text-anchor="start" textLength="46.70" lengthAdjust="spacingAndGlyphs" >145.507</text>
<clipPath id="lgc"><rect x="6" y="60" width="562" height="25"/></clipPath>
<line x1="2.9" y1="72" x2="1395" y2="72" stroke="rgba(120,120,120,0.75)" stroke-width="2" stroke-dasharray="8 14" stroke-linecap="round" clip-path="url(#lgc)"/>
<rect x="11.5" y="88.5" width="28" height="19.5" rx="4" fill="#ffffff" stroke="#e0e3eb" stroke-width="1"/>
<polyline points="21.5,100.8 25.5,96.6 29.5,100.8" fill="none" stroke="#131722" stroke-width="1.5"/>
<circle cx="23.3" cy="13.7" r="5" fill="#ffffff" stroke="#e8e8f0" stroke-width="1"/>
<circle cx="23.3" cy="13.7" r="2.2" fill="#f23645"/>
<clipPath id="fl"><circle cx="17" cy="20.6" r="5.8"/></clipPath>
<g clip-path="url(#fl)"><rect x="11" y="14.5" width="12" height="13" fill="#ffffff"/><rect x="11" y="14.5" width="12" height="1.5" fill="#f23645"/><rect x="11" y="17.5" width="12" height="1.5" fill="#f23645"/><rect x="11" y="20.5" width="12" height="1.5" fill="#f23645"/><rect x="11" y="23.5" width="12" height="1.5" fill="#f23645"/><rect x="11" y="26" width="12" height="2" fill="#f23645"/><rect x="11" y="14.5" width="6" height="6.5" fill="#3a6cd8"/></g>
<text x="33.50" y="23.90" font-size="15" fill="#555555" font-weight="normal" text-anchor="start" textLength="27.40" lengthAdjust="spacingAndGlyphs" >U.S.</text>
<text x="68.60" y="23.90" font-size="15" fill="#555555" font-weight="normal" text-anchor="start" textLength="41.20" lengthAdjust="spacingAndGlyphs" >Dollar</text>
<text x="116.40" y="23.90" font-size="15" fill="#555555" font-weight="normal" text-anchor="start" textLength="6.00" lengthAdjust="spacingAndGlyphs" >/</text>
<text x="128.80" y="23.90" font-size="15" fill="#555555" font-weight="normal" text-anchor="start" textLength="64.80" lengthAdjust="spacingAndGlyphs" >Japanese</text>
<text x="199.60" y="23.90" font-size="15" fill="#555555" font-weight="normal" text-anchor="start" textLength="23.10" lengthAdjust="spacingAndGlyphs" >Yen</text>
<text x="237.50" y="23.90" font-size="15" fill="#555555" font-weight="normal" text-anchor="start" textLength="15.40" lengthAdjust="spacingAndGlyphs" >1D</text>
<text x="267.20" y="23.90" font-size="15" fill="#555555" font-weight="normal" text-anchor="start" textLength="97.50" lengthAdjust="spacingAndGlyphs" >PEPPERSTONE</text>
<circle cx="229.8" cy="19.2" r="1.2" fill="#555555"/>
<circle cx="260" cy="19.2" r="1.2" fill="#555555"/>
<circle cx="388.8" cy="17.9" r="9" fill="#dcefea"/>
<circle cx="388.8" cy="17.9" r="4.3" fill="#089981"/>
<text x="413.60" y="23.10" font-size="12.3" fill="#595959" font-weight="normal" text-anchor="start" textLength="7.90" lengthAdjust="spacingAndGlyphs" >O</text>
<text x="424.60" y="23.10" font-size="12.3" fill="#2b6e4e" font-weight="normal" text-anchor="start" textLength="44.20" lengthAdjust="spacingAndGlyphs" >149.957</text>
<text x="476.00" y="23.10" font-size="12.3" fill="#595959" font-weight="normal" text-anchor="start" textLength="7.00" lengthAdjust="spacingAndGlyphs" >H</text>
<text x="483.60" y="23.10" font-size="12.3" fill="#2b6e4e" font-weight="normal" text-anchor="start" textLength="46.10" lengthAdjust="spacingAndGlyphs" >150.188</text>
<text x="537.20" y="23.10" font-size="12.3" fill="#595959" font-weight="normal" text-anchor="start" textLength="5.10" lengthAdjust="spacingAndGlyphs" >L</text>
<text x="543.50" y="23.10" font-size="12.3" fill="#2b6e4e" font-weight="normal" text-anchor="start" textLength="45.10" lengthAdjust="spacingAndGlyphs" >149.852</text>
<text x="596.50" y="23.10" font-size="12.3" fill="#595959" font-weight="normal" text-anchor="start" textLength="6.30" lengthAdjust="spacingAndGlyphs" >C</text>
<text x="604.40" y="23.10" font-size="12.3" fill="#2b6e4e" font-weight="normal" text-anchor="start" textLength="45.10" lengthAdjust="spacingAndGlyphs" >150.169</text>
<text x="656.50" y="23.10" font-size="12.3" fill="#2b6e4e" font-weight="normal" text-anchor="start" textLength="37.80" lengthAdjust="spacingAndGlyphs" >+0.176</text>
<text x="699.00" y="23.10" font-size="12.3" fill="#2b6e4e" font-weight="normal" text-anchor="start" textLength="49.00" lengthAdjust="spacingAndGlyphs" >(+0.12%)</text>
<rect x="10.5" y="34.5" width="60" height="22.5" rx="4" fill="#ffffff" stroke="#f23645" stroke-width="1"/>
<text x="18.50" y="50.75" font-size="12.5" fill="#f23645" font-weight="normal" text-anchor="start" textLength="37.70" lengthAdjust="spacingAndGlyphs" >150.17</text>
<text x="57.40" y="48.60" font-size="10.5" fill="#f23645" font-weight="normal" text-anchor="start" textLength="5.00" lengthAdjust="spacingAndGlyphs" >0</text>
<text x="78.90" y="50.75" font-size="12.5" fill="#131722" font-weight="normal" text-anchor="start" textLength="14.40" lengthAdjust="spacingAndGlyphs" >0.1</text>
<rect x="102.5" y="34.5" width="60" height="22.5" rx="4" fill="#ffffff" stroke="#2962ff" stroke-width="1"/>
<text x="111.80" y="50.75" font-size="12.5" fill="#2962ff" font-weight="normal" text-anchor="start" textLength="38.40" lengthAdjust="spacingAndGlyphs" >150.17</text>
<text x="150.60" y="48.60" font-size="10.5" fill="#2962ff" font-weight="normal" text-anchor="start" textLength="3.20" lengthAdjust="spacingAndGlyphs" >1</text>
<rect x="1396.00" y="2.00" width="59.00" height="829.00" fill="#ffffff" />
<rect x="1395.00" y="2.00" width="1.00" height="829.00" fill="#555555" />
<rect x="2.00" y="686.00" width="1453.00" height="1.00" fill="#e0e3eb" />
<rect x="2.00" y="716.00" width="1453.00" height="1.00" fill="#e0e3eb" />
<text x="1403.70" y="670.80" font-size="12" fill="#4d4d4d" font-weight="normal" text-anchor="start" textLength="41.10" lengthAdjust="spacingAndGlyphs" >134.000</text>
<text x="1403.70" y="637.80" font-size="12" fill="#4d4d4d" font-weight="normal" text-anchor="start" textLength="41.10" lengthAdjust="spacingAndGlyphs" >135.000</text>
<text x="1403.70" y="604.80" font-size="12" fill="#4d4d4d" font-weight="normal" text-anchor="start" textLength="41.10" lengthAdjust="spacingAndGlyphs" >136.000</text>
<text x="1403.70" y="571.80" font-size="12" fill="#4d4d4d" font-weight="normal" text-anchor="start" textLength="41.10" lengthAdjust="spacingAndGlyphs" >137.000</text>
<text x="1403.70" y="538.80" font-size="12" fill="#4d4d4d" font-weight="normal" text-anchor="start" textLength="41.10" lengthAdjust="spacingAndGlyphs" >138.000</text>
<text x="1403.70" y="505.80" font-size="12" fill="#4d4d4d" font-weight="normal" text-anchor="start" textLength="41.10" lengthAdjust="spacingAndGlyphs" >139.000</text>
<text x="1403.70" y="471.80" font-size="12" fill="#4d4d4d" font-weight="normal" text-anchor="start" textLength="41.10" lengthAdjust="spacingAndGlyphs" >140.000</text>
<text x="1403.70" y="438.80" font-size="12" fill="#4d4d4d" font-weight="normal" text-anchor="start" textLength="41.10" lengthAdjust="spacingAndGlyphs" >141.000</text>
<text x="1403.70" y="405.80" font-size="12" fill="#4d4d4d" font-weight="normal" text-anchor="start" textLength="41.10" lengthAdjust="spacingAndGlyphs" >142.000</text>
<text x="1403.70" y="372.80" font-size="12" fill="#4d4d4d" font-weight="normal" text-anchor="start" textLength="41.10" lengthAdjust="spacingAndGlyphs" >143.000</text>
<text x="1403.70" y="339.80" font-size="12" fill="#4d4d4d" font-weight="normal" text-anchor="start" textLength="41.10" lengthAdjust="spacingAndGlyphs" >144.000</text>
<text x="1403.70" y="306.80" font-size="12" fill="#4d4d4d" font-weight="normal" text-anchor="start" textLength="41.10" lengthAdjust="spacingAndGlyphs" >145.000</text>
<text x="1403.70" y="272.80" font-size="12" fill="#4d4d4d" font-weight="normal" text-anchor="start" textLength="41.10" lengthAdjust="spacingAndGlyphs" >146.000</text>
<text x="1403.70" y="239.80" font-size="12" fill="#4d4d4d" font-weight="normal" text-anchor="start" textLength="41.10" lengthAdjust="spacingAndGlyphs" >147.000</text>
<text x="1403.70" y="206.80" font-size="12" fill="#4d4d4d" font-weight="normal" text-anchor="start" textLength="41.10" lengthAdjust="spacingAndGlyphs" >148.000</text>
<text x="1403.70" y="173.80" font-size="12" fill="#4d4d4d" font-weight="normal" text-anchor="start" textLength="41.10" lengthAdjust="spacingAndGlyphs" >149.000</text>
<text x="1403.70" y="140.80" font-size="12" fill="#4d4d4d" font-weight="normal" text-anchor="start" textLength="41.10" lengthAdjust="spacingAndGlyphs" >150.000</text>
<text x="1403.70" y="107.80" font-size="12" fill="#4d4d4d" font-weight="normal" text-anchor="start" textLength="41.10" lengthAdjust="spacingAndGlyphs" >151.000</text>
<text x="1403.70" y="73.80" font-size="12" fill="#4d4d4d" font-weight="normal" text-anchor="start" textLength="41.10" lengthAdjust="spacingAndGlyphs" >152.000</text>
<text x="1403.70" y="40.80" font-size="12" fill="#4d4d4d" font-weight="normal" text-anchor="start" textLength="41.10" lengthAdjust="spacingAndGlyphs" >153.000</text>
<path d="M1395.5,64.21 H1447.5 Q1450.5,64.21 1450.5,67.21 V77.81 Q1450.5,80.81 1447.5,80.81 H1395.5 Z" fill="#000000"/>
<text x="1403.70" y="77.01" font-size="12.5" fill="#ffffff" font-weight="bold" text-anchor="start" textLength="41.10" lengthAdjust="spacingAndGlyphs" >151.916</text>
<path d="M1395.5,291.86 H1447.5 Q1450.5,291.86 1450.5,294.86 V305.46 Q1450.5,308.46 1447.5,308.46 H1395.5 Z" fill="#000000"/>
<text x="1403.70" y="304.66" font-size="12.5" fill="#ffffff" font-weight="bold" text-anchor="start" textLength="41.10" lengthAdjust="spacingAndGlyphs" >145.054</text>
<path d="M1395.5,450.05 H1447.5 Q1450.5,450.05 1450.5,453.05 V463.65 Q1450.5,466.65 1447.5,466.65 H1395.5 Z" fill="#000000"/>
<text x="1403.70" y="462.85" font-size="12.5" fill="#ffffff" font-weight="bold" text-anchor="start" textLength="41.10" lengthAdjust="spacingAndGlyphs" >140.286</text>
<path d="M1395.5,551.63 H1447.5 Q1450.5,551.63 1450.5,554.63 V565.23 Q1450.5,568.23 1447.5,568.23 H1395.5 Z" fill="#000000"/>
<text x="1403.70" y="564.43" font-size="12.5" fill="#ffffff" font-weight="bold" text-anchor="start" textLength="41.10" lengthAdjust="spacingAndGlyphs" >137.224</text>
<rect x="1396.00" y="2.00" width="59.00" height="34.00" fill="#ffffff" />
<rect x="1399.5" y="6.5" width="51" height="25" rx="5" fill="#ffffff" stroke="#e0e3eb" stroke-width="1"/>
<text x="1403.00" y="23.00" font-size="12.5" fill="#131722" font-weight="normal" text-anchor="start" textLength="19.30" lengthAdjust="spacingAndGlyphs" >JPY</text>
<polyline points="1441.3,18.4 1443.6,20.8 1445.9,18.4" fill="none" stroke="#131722" stroke-width="1.4"/>
<text x="1403.50" y="733.10" font-size="12" fill="#4d4d4d" font-weight="normal" text-anchor="start" textLength="34.50" lengthAdjust="spacingAndGlyphs" >200.00</text>
<text x="1403.50" y="766.30" font-size="12" fill="#4d4d4d" font-weight="normal" text-anchor="start" textLength="22.20" lengthAdjust="spacingAndGlyphs" >0.00</text>
<text x="1403.50" y="798.60" font-size="12" fill="#4d4d4d" font-weight="normal" text-anchor="start" textLength="40.70" lengthAdjust="spacingAndGlyphs" >&#8722;200.00</text>
<rect x="2.00" y="803.00" width="1453.00" height="1.00" fill="#555555" />
<text x="54.50" y="821.00" font-size="12.5" fill="#4d4d4d" font-weight="normal" text-anchor="middle" >17</text>
<text x="144.50" y="821.00" font-size="12.5" fill="#4d4d4d" font-weight="normal" text-anchor="middle" >Aug</text>
<text x="227.50" y="821.00" font-size="12.5" fill="#4d4d4d" font-weight="normal" text-anchor="middle" >15</text>
<text x="334.50" y="821.00" font-size="12.5" fill="#4d4d4d" font-weight="normal" text-anchor="middle" >Sep</text>
<text x="425.50" y="821.00" font-size="12.5" fill="#4d4d4d" font-weight="normal" text-anchor="middle" >18</text>
<text x="507.50" y="821.00" font-size="12.5" fill="#4d4d4d" font-weight="normal" text-anchor="middle" >Oct</text>
<text x="590.50" y="821.00" font-size="12.5" fill="#4d4d4d" font-weight="normal" text-anchor="middle" >16</text>
<text x="689.50" y="821.00" font-size="12.5" fill="#4d4d4d" font-weight="normal" text-anchor="middle" >Nov</text>
<text x="771.50" y="821.00" font-size="12.5" fill="#4d4d4d" font-weight="normal" text-anchor="middle" >15</text>
<text x="870.50" y="821.00" font-size="12.5" fill="#4d4d4d" font-weight="normal" text-anchor="middle" >Dec</text>
<text x="953.50" y="821.00" font-size="12.5" fill="#4d4d4d" font-weight="normal" text-anchor="middle" >15</text>
<text x="1035.50" y="821.00" font-size="12.5" fill="#404040" font-weight="normal" text-anchor="middle" >2024</text>
<text x="1118.50" y="821.00" font-size="12.5" fill="#4d4d4d" font-weight="normal" text-anchor="middle" >16</text>
<text x="1217.50" y="821.00" font-size="12.5" fill="#4d4d4d" font-weight="normal" text-anchor="middle" >Feb</text>
<text x="1299.50" y="821.00" font-size="12.5" fill="#4d4d4d" font-weight="normal" text-anchor="middle" >15</text>
<text x="1390.50" y="821.00" font-size="12.5" fill="#4d4d4d" font-weight="normal" text-anchor="middle" >Ma</text>
<path d="M1419.3,817.4 L1422.6,811.6 L1429.2,811.6 L1432.5,817.4 L1429.2,823.2 L1422.6,823.2 Z" fill="#ffffff" stroke="#131722" stroke-width="1.2"/>
<circle cx="1425.9" cy="817.4" r="2.3" fill="none" stroke="#131722" stroke-width="1.2"/>
<rect x="11.5" y="771.5" width="35" height="18.5" rx="3" fill="#ffffff"/>
<path d="M14.05,774.1 H25.8 V788.9 H20.1 V779.8 H14.05 Z" fill="#131722"/>
<circle cx="31" cy="776.9" r="2.86" fill="#131722"/>
<path d="M37.2,774.1 H43.8 L37.9,788.9 H31.2 Z" fill="#131722"/>
<text x="11.20" y="707.80" font-size="12.5" fill="#4f4f4f" font-weight="normal" text-anchor="start" textLength="67.30" lengthAdjust="spacingAndGlyphs" >ATR 14 RMA</text>
<text x="86.80" y="707.80" font-size="12.5" fill="#b22833" font-weight="normal" text-anchor="start" textLength="31.30" lengthAdjust="spacingAndGlyphs" >0.997</text>
<text x="11.20" y="738.00" font-size="12.5" fill="#4f4f4f" font-weight="normal" text-anchor="start" textLength="101.10" lengthAdjust="spacingAndGlyphs" >CCI 20 hlc3 SMA 5</text>
<text x="122.10" y="738.00" font-size="12.5" fill="#2962ff" font-weight="normal" text-anchor="start" textLength="30.60" lengthAdjust="spacingAndGlyphs" >78.69</text>
<defs><filter id="blur1" x="-20%" y="-20%" width="140%" height="140%"><feGaussianBlur stdDeviation="1.0"/></filter><filter id="blur2" x="-20%" y="-20%" width="140%" height="140%"><feGaussianBlur stdDeviation="0.4"/></filter></defs>
<g opacity="0.62">
<path d="M1220,742 L1278,742 L1264,795 L1208,795 Z M1242.5,760 L1261.2,760 L1258.5,768.6 L1240.9,768.6 Z M1237.8,776.4 L1256.5,776.4 L1253.5,786.5 L1236.2,786.5 Z" fill="#ffffff" fill-rule="evenodd"/>
<path d="M1282,742 L1334.5,742 L1320,795 L1270,795 Z M1290.5,749.5 L1322.5,749.5 L1319.5,762 L1288,762 Z M1276,770 L1317,770 L1315,778 L1274,778 Z" fill="#ffffff" fill-rule="evenodd"/>
<path d="M1341,742 L1398,742 L1384,795 L1329,795 Z M1347.6,750.2 L1358,750.2 L1350.3,778.7 L1339.8,778.7 Z" fill="#ffffff" fill-rule="evenodd"/>
<path d="M1402,742 L1456,742 L1444,795 L1390,795 Z" fill="#ffffff" fill-rule="evenodd"/>
</g>
<g filter="url(#blur1)" opacity="0.6">
<polyline points="1224.50,756.00 1234.70,756.00" fill="none" stroke="#505050" stroke-width="2.6" stroke-linejoin="round" />
<polyline points="1228.40,758.40 1227.60,766.20" fill="none" stroke="#505050" stroke-width="2.6" stroke-linejoin="round" />
<polyline points="1219.80,774.00 1228.40,774.00" fill="none" stroke="#505050" stroke-width="2.6" stroke-linejoin="round" />
<polyline points="1228.40,775.60 1221.40,792.80" fill="none" stroke="#505050" stroke-width="2.6" stroke-linejoin="round" />
<polyline points="1212.00,794.30 1262.80,794.30" fill="none" stroke="#505050" stroke-width="2.6" stroke-linejoin="round" />
<polyline points="1234.70,749.80 1275.30,749.80 1276.50,744.40" fill="none" stroke="#505050" stroke-width="2.6" stroke-linejoin="round" />
<polyline points="1272.10,753.00 1262.80,791.20" fill="none" stroke="#505050" stroke-width="2.6" stroke-linejoin="round" />
<polyline points="1261.20,760.00 1242.50,760.00 1240.90,768.60" fill="none" stroke="#505050" stroke-width="2.6" stroke-linejoin="round" />
<polyline points="1256.50,776.40 1237.80,776.40 1236.20,786.50" fill="none" stroke="#505050" stroke-width="2.6" stroke-linejoin="round" />
<polyline points="1255.00,762.30 1258.90,768.60" fill="none" stroke="#505050" stroke-width="2.6" stroke-linejoin="round" />
<polyline points="1250.30,778.70 1253.40,785.70" fill="none" stroke="#505050" stroke-width="2.6" stroke-linejoin="round" />
<polyline points="1284.80,748.70 1322.30,748.70" fill="none" stroke="#505050" stroke-width="2.6" stroke-linejoin="round" />
<polyline points="1291.50,750.60 1289.10,761.90" fill="none" stroke="#505050" stroke-width="2.6" stroke-linejoin="round" />
<polyline points="1280.10,770.50 1318.40,770.50" fill="none" stroke="#505050" stroke-width="2.6" stroke-linejoin="round" />
<polyline points="1274.70,785.00 1313.70,785.00" fill="none" stroke="#505050" stroke-width="2.6" stroke-linejoin="round" />
<polyline points="1315.30,778.70 1313.00,785.00" fill="none" stroke="#505050" stroke-width="2.6" stroke-linejoin="round" />
<polyline points="1334.00,742.80 1320.50,792.50 1318.00,795.00 1300.00,795.00" fill="none" stroke="#505050" stroke-width="2.6" stroke-linejoin="round" />
<polyline points="1358.60,750.20 1347.60,750.20 1339.80,778.70" fill="none" stroke="#505050" stroke-width="2.6" stroke-linejoin="round" />
<polyline points="1357.80,750.20 1350.00,778.70" fill="none" stroke="#505050" stroke-width="2.6" stroke-linejoin="round" />
<polyline points="1368.70,742.80 1359.30,778.70" fill="none" stroke="#505050" stroke-width="2.6" stroke-linejoin="round" />
<polyline points="1333.60,782.00 1339.00,782.00 1343.70,788.90" fill="none" stroke="#505050" stroke-width="2.6" stroke-linejoin="round" />
<polyline points="1351.50,782.00 1356.20,789.60" fill="none" stroke="#505050" stroke-width="2.6" stroke-linejoin="round" />
<polyline points="1368.70,754.10 1382.80,754.10" fill="none" stroke="#505050" stroke-width="2.6" stroke-linejoin="round" />
<polyline points="1381.20,758.40 1366.40,789.60" fill="none" stroke="#505050" stroke-width="2.6" stroke-linejoin="round" />
<polyline points="1395.30,753.00 1381.50,792.00 1379.00,793.80 1368.00,793.80" fill="none" stroke="#505050" stroke-width="2.6" stroke-linejoin="round" />
<polyline points="1329.70,794.50 1356.00,794.50" fill="none" stroke="#505050" stroke-width="2.6" stroke-linejoin="round" />
<polyline points="1421.70,742.00 1408.40,756.00" fill="none" stroke="#505050" stroke-width="2.6" stroke-linejoin="round" />
<polyline points="1422.40,754.50 1406.80,773.20" fill="none" stroke="#505050" stroke-width="2.6" stroke-linejoin="round" />
<polyline points="1396.70,781.00 1414.60,781.00" fill="none" stroke="#505050" stroke-width="2.6" stroke-linejoin="round" />
<polyline points="1427.00,748.70 1442.00,748.70" fill="none" stroke="#505050" stroke-width="2.6" stroke-linejoin="round" />
<polyline points="1455.00,742.80 1444.00,757.60" fill="none" stroke="#505050" stroke-width="2.6" stroke-linejoin="round" />
<polyline points="1422.40,767.80 1449.70,767.80" fill="none" stroke="#505050" stroke-width="2.6" stroke-linejoin="round" />
<polyline points="1418.50,777.50 1427.00,777.50" fill="none" stroke="#505050" stroke-width="2.6" stroke-linejoin="round" />
<polyline points="1447.40,771.70 1435.00,785.70" fill="none" stroke="#505050" stroke-width="2.6" stroke-linejoin="round" />
<polyline points="1391.00,794.30 1444.00,794.30" fill="none" stroke="#505050" stroke-width="2.6" stroke-linejoin="round" />
</g>
<g font-style="italic" font-weight="bold" opacity="0.92">
<text x="1225.6" y="829" font-size="31" fill="#8b95d2" textLength="18.7" lengthAdjust="spacingAndGlyphs" font-family='"Liberation Sans", sans-serif' filter="url(#blur2)">z</text>
<text x="1252.0" y="829" font-size="31" fill="#8b95d2" textLength="17.8" lengthAdjust="spacingAndGlyphs" font-family='"Liberation Sans", sans-serif' filter="url(#blur2)">z</text>
<text x="1280.0" y="829" font-size="31" fill="#8b95d2" textLength="17.0" lengthAdjust="spacingAndGlyphs" font-family='"Liberation Sans", sans-serif' filter="url(#blur2)">r</text>
<text x="1304.7" y="829" font-size="31" fill="#8b95d2" textLength="14.3" lengthAdjust="spacingAndGlyphs" font-family='"Liberation Sans", sans-serif' filter="url(#blur2)">t</text>
<text x="1324.0" y="829" font-size="31" fill="#8b95d2" textLength="20.7" lengthAdjust="spacingAndGlyphs" font-family='"Liberation Sans", sans-serif' filter="url(#blur2)">0</text>
<text x="1358.0" y="829" font-size="31" fill="#8b95d2" textLength="14.7" lengthAdjust="spacingAndGlyphs" font-family='"Liberation Sans", sans-serif' filter="url(#blur2)">1</text>
<text x="1382.0" y="829" font-size="31" fill="#8b95d2" textLength="7.0" lengthAdjust="spacingAndGlyphs" font-family='"Liberation Sans", sans-serif' filter="url(#blur2)">.</text>
<text x="1402.5" y="829" font-size="31" fill="#8b95d2" textLength="17.0" lengthAdjust="spacingAndGlyphs" font-family='"Liberation Sans", sans-serif' filter="url(#blur2)">c</text>
<text x="1426.3" y="829" font-size="31" fill="#8b95d2" textLength="22.1" lengthAdjust="spacingAndGlyphs" font-family='"Liberation Sans", sans-serif' filter="url(#blur2)">n</text>
<text x="1223.6" y="827" font-size="31" fill="#8ec6fa" textLength="18.7" lengthAdjust="spacingAndGlyphs" font-family='"Liberation Sans", sans-serif'>z</text>
<text x="1250.0" y="827" font-size="31" fill="#8ec6fa" textLength="17.8" lengthAdjust="spacingAndGlyphs" font-family='"Liberation Sans", sans-serif'>z</text>
<text x="1278.0" y="827" font-size="31" fill="#8ec6fa" textLength="17.0" lengthAdjust="spacingAndGlyphs" font-family='"Liberation Sans", sans-serif'>r</text>
<text x="1302.7" y="827" font-size="31" fill="#8ec6fa" textLength="14.3" lengthAdjust="spacingAndGlyphs" font-family='"Liberation Sans", sans-serif'>t</text>
<text x="1322.0" y="827" font-size="31" fill="#8ec6fa" textLength="20.7" lengthAdjust="spacingAndGlyphs" font-family='"Liberation Sans", sans-serif'>0</text>
<text x="1356.0" y="827" font-size="31" fill="#8ec6fa" textLength="14.7" lengthAdjust="spacingAndGlyphs" font-family='"Liberation Sans", sans-serif'>1</text>
<text x="1380.0" y="827" font-size="31" fill="#8ec6fa" textLength="7.0" lengthAdjust="spacingAndGlyphs" font-family='"Liberation Sans", sans-serif'>.</text>
<text x="1400.5" y="827" font-size="31" fill="#8ec6fa" textLength="17.0" lengthAdjust="spacingAndGlyphs" font-family='"Liberation Sans", sans-serif'>c</text>
<text x="1424.3" y="827" font-size="31" fill="#8ec6fa" textLength="22.1" lengthAdjust="spacingAndGlyphs" font-family='"Liberation Sans", sans-serif'>n</text>
</g>
<path d="M1419.3,817.4 L1422.6,811.6 L1429.2,811.6 L1432.5,817.4 L1429.2,823.2 L1422.6,823.2 Z" fill="none" stroke="#131722" stroke-width="1.2"/>
<circle cx="1425.9" cy="817.4" r="2.3" fill="none" stroke="#131722" stroke-width="1.2"/>
</svg>
</body></html>
